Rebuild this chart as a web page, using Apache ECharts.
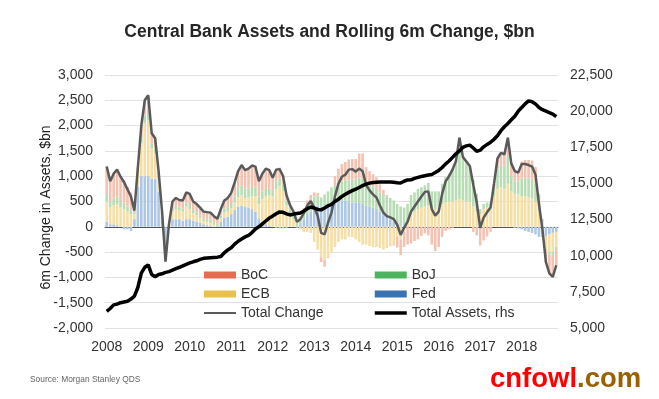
<!DOCTYPE html>
<html>
<head>
<meta charset="utf-8">
<title>Central Bank Assets and Rolling 6m Change</title>
<script src="https://cdn.jsdelivr.net/npm/echarts/dist/echarts.min.js"></script>
<style>
  html, body { margin: 0; padding: 0; background: #fff; }
  #chart { width: 659px; height: 399px; }
</style>
</head>
<body>
<div id="chart"></div>
<script>
// monthly observations, Jan 2008 .. Nov 2018
const startYear = 2008
const monthCount = 131

// rolling 6m change by central bank, $bn
const fed = [
  100, 50, 50, 30, 0, -50, -50, -80, 150, 800, 1000, 1000,
  1000, 950, 950, 700, 200, -500, 0, 150, 150, 150, 120, 150,
  150, 120, 100, 80, 50, 30, 20, 0, 20, 100, 180, 200,
  250, 330, 400, 420, 400, 380, 350, 300, 150, 100, 50, 20,
  0, -20, -30, -30, -20, 0, 0, -20, 50, 150, 250, 300,
  400, 420, 400, 420, 450, 500, 520, 530, 520, 520, 500, 480,
  480, 470, 450, 420, 400, 380, 350, 300, 250, 200, 150, 100,
  50, 20, 0, 0, 0, 0, 0, 0, 0, 0, 0, 0,
  0, 0, 0, 0, 0, 0, 0, 0, 0, 0, 0, 0,
  0, 0, 0, 0, 0, 0, 0, 0, 0, 0, -20, -30,
  -50, -80, -100, -120, -150, -200, -200, -180, -150, -120, -100
]
const ecb = [
  400, 330, 380, 420, 380, 350, 300, 250, 100, 250, 650, 1050,
  1100, 600, 500, 250, 50, -150, 0, 150, 200, 180, 180, 250,
  200, 150, 130, 100, 70, 70, 60, 40, 10, 60, 100, 100,
  120, 150, 180, 200, 170, 200, 250, 300, 300, 450, 550, 600,
  600, 750, 800, 700, 420, 250, 150, 0, -50, -100, -100, -120,
  -300, -450, -600, -650, -600, -500, -400, -300, -250, -250, -200, -200,
  -250, -300, -350, -350, -380, -400, -400, -420, -450, -420, -380, -350,
  -200, -250, -100, 100, 250, 300, 350, 380, 400, 420, 350, 350,
  400, 450, 480, 500, 500, 520, 550, 520, 500, 500, 400, 300,
  250, 350, 380, 400, 600, 750, 780, 750, 850, 700, 650, 650,
  600, 600, 580, 560, 500, 300, 100, -250, -350, -380, -300
]
const boj = [
  150, 120, 130, 150, 130, 130, 100, 80, 20, 30, 120, 150,
  150, 100, 100, 50, 20, -20, 20, 50, 60, 50, 60, 80,
  80, 60, 60, 50, 40, 50, 60, 50, 40, 60, 80, 90,
  100, 120, 170, 200, 180, 180, 190, 180, 150, 150, 150, 130,
  120, 150, 150, 130, 100, 100, 100, 80, 100, 150, 180, 220,
  200, 200, 180, 220, 250, 280, 300, 350, 380, 400, 420, 450,
  450, 500, 500, 450, 450, 420, 400, 380, 380, 400, 420, 420,
  400, 380, 380, 350, 380, 380, 400, 400, 420, 450, 350, 350,
  300, 400, 500, 550, 650, 780, 1000, 800, 750, 700, 530, 350,
  100, 100, 100, 80, 150, 400, 450, 450, 550, 300, 250, 250,
  350, 370, 380, 390, 350, 200, 50, -30, -50, -60, -40
]
const boc = [
  540, 400, 490, 530, 480, 450, 390, 350, 50, 90, 230, 300,
  350, 200, 200, 100, 30, -20, 30, 150, 160, 150, 160, 200,
  220, 170, 160, 150, 140, 140, 140, 120, 90, 130, 160, 180,
  200, 280, 350, 400, 370, 390, 420, 410, 300, 350, 400, 370,
  250, 250, 220, 200, 120, 80, 50, 40, 50, 70, 90, 110,
  80, 50, -100, -140, -20, 0, 180, 270, 340, 360, 410, 410,
  410, 480, 500, 310, 250, 240, 230, 160, 100, 30, -5, -20,
  -210, -310, -300, -350, -330, -280, -250, -180, -130, -170, -350, -480,
  -400, -200, -80, -50, -20, 0, 210, 60, 40, 0, -100, -170,
  -370, -270, -190, -100, 100, 200, 230, 230, 360, 250, 220, 200,
  340, 350, 360, 360, 330, 150, 0, -240, -370, -430, -320
]
const totalChange = [
  1190, 900, 1050, 1130, 990, 880, 740, 600, 320, 1170, 2000, 2500,
  2600, 1850, 1750, 1100, 300, -690, 50, 500, 570, 530, 520, 680,
  650, 500, 450, 380, 300, 290, 280, 210, 160, 350, 520, 570,
  670, 880, 1100, 1220, 1120, 1150, 1210, 1190, 900, 1050, 1150, 1120,
  970, 1130, 1140, 1000, 620, 430, 300, 100, 150, 270, 420, 510,
  380, 220, -120, -150, 80, 280, 600, 850, 990, 1030, 1130, 1140,
  1090, 1150, 1100, 830, 720, 640, 580, 420, 280, 210, 185, 150,
  40, -160, -20, 100, 300, 400, 500, 600, 690, 700, 350, 220,
  300, 650, 900, 1000, 1130, 1300, 1760, 1380, 1290, 1200, 830, 480,
  -20, 180, 290, 380, 850, 1350, 1460, 1430, 1760, 1250, 1100, 1070,
  1240, 1240, 1220, 1190, 1030, 450, -50, -700, -920, -990, -760
]
// total assets, $bn (right axis)
const totalAssets = [
  6150, 6350, 6600, 6650, 6750, 6800, 6850, 7000, 7200, 7800, 8800, 9200,
  9360, 8700, 8550, 8700, 8750, 8850, 8900, 9000, 9100, 9200, 9300, 9400,
  9500, 9580, 9650, 9750, 9820, 9840, 9860, 9880, 9900, 9950, 10200, 10400,
  10550, 10800, 11000, 11150, 11300, 11400, 11600, 11850, 12000, 12200, 12400, 12600,
  12750, 12900, 13030, 13000, 12900, 12820, 12880, 12920, 12960, 13100, 13250, 13370,
  13300, 13200, 13170, 13300, 13450, 13550, 13750, 13900, 14100, 14250, 14380, 14500,
  14600, 14720, 14850, 14950, 15020, 15060, 15080, 15100, 15100, 15100, 15100, 15080,
  15050, 15030, 15150, 15240, 15250, 15350, 15420, 15480, 15530, 15580, 15620, 15750,
  15900, 16100, 16350, 16550, 16800, 17050, 17250, 17500, 17600, 17650, 17450, 17220,
  17300, 17530, 17700, 17850, 18050, 18300, 18650, 18920, 19150, 19400, 19650, 20000,
  20250, 20500, 20710, 20650, 20500, 20250, 20100, 20000, 19900, 19800, 19620
]

const months = []
for (let i = 0; i < monthCount; i++) {
  const y = startYear + Math.floor(i / 12)
  const m = (i % 12) + 1
  months.push(y + '-' + (m < 10 ? '0' + m : m))
}

const font = 'Liberation Sans, Arial, sans-serif'
const fmt = v => v.toLocaleString('en-US')
const yearTick = i => i % 12 === 0
// legend entry for a line series: plain stroke, no marker
const lineEntry = (name, color, width) => ({
  name: name,
  itemStyle: { opacity: 0, color: 'rgba(0,0,0,0)', borderWidth: 0 },
  lineStyle: { color: color, width: width }
})

const chart = echarts.init(document.getElementById('chart'))
chart.setOption({
  animation: false,
  backgroundColor: '#fff',
  textStyle: { fontFamily: font },
  title: [
    {
      text: 'Central Bank Assets and Rolling 6m Change, $bn',
      left: 'center', top: 23, padding: 0,
      textStyle: { fontSize: 17.5, fontWeight: 'bold', color: '#262626', fontFamily: font }
    },
    {
      text: 'Source: Morgan Stanley QDS',
      left: 30, top: 376, padding: 0,
      textStyle: { fontSize: 8.4, fontWeight: 'normal', color: '#666', fontFamily: font }
    },
    {
      text: '{r|cnfowl}{b|.com}',
      left: 490, top: 365, padding: 0,
      textStyle: {
        rich: {
          r: { fontSize: 27.5, color: '#ff0000', fontFamily: font },
          b: { fontSize: 27.5, color: '#996100', fontFamily: font }
        }
      }
    }
  ],
  legend: [
    {
      left: 203, top: 268, orient: 'vertical', itemGap: 5,
      itemWidth: 32, itemHeight: 7, padding: 0,
      textStyle: { fontSize: 14, color: '#333', fontFamily: font },
      data: [
        { name: 'BoC', icon: 'rect', itemStyle: { color: '#e26d4f' } },
        { name: 'ECB', icon: 'rect', itemStyle: { color: '#e9c04f' } },
        lineEntry('Total Change', '#5a5a5a', 2)
      ]
    },
    {
      left: 373, top: 268, orient: 'vertical', itemGap: 5,
      itemWidth: 32, itemHeight: 7, padding: 0,
      textStyle: { fontSize: 14, color: '#333', fontFamily: font },
      data: [
        { name: 'BoJ', icon: 'rect', itemStyle: { color: '#4db35e' } },
        { name: 'Fed', icon: 'rect', itemStyle: { color: '#3b73b1' } },
        lineEntry('Total Assets, rhs', '#000', 3.5)
      ]
    }
  ],
  grid: { left: 105, right: 101, top: 75, bottom: 71, outerBoundsMode: 'none' },
  xAxis: [
    {
      // zero line with yearly ticks
      type: 'category', data: months, position: 'bottom',
      axisLine: { onZero: true, lineStyle: { color: '#555', width: 1 } },
      axisTick: { interval: yearTick, length: 3, lineStyle: { color: '#555' } },
      axisLabel: { show: false },
      splitLine: { show: false }
    },
    {
      // year labels along the bottom
      type: 'category', data: months, position: 'bottom',
      axisLine: { show: false, onZero: false },
      axisTick: { show: false },
      axisLabel: {
        interval: yearTick, margin: 12, fontSize: 14, color: '#333', fontFamily: font,
        formatter: v => v.slice(0, 4)
      },
      splitLine: { show: false }
    }
  ],
  yAxis: [
    {
      type: 'value', min: -2000, max: 3000, interval: 500,
      name: '6m Change in Assets, $bn', nameLocation: 'middle', nameGap: 52,
      nameMoveOverlap: false,
      nameTextStyle: { fontSize: 14, color: '#222', fontFamily: font, padding: [0, 12, 0, 0] },
      axisLine: { show: false }, axisTick: { show: false },
      axisLabel: { fontSize: 14, color: '#333', margin: 12, fontFamily: font, formatter: fmt },
      splitLine: { lineStyle: { color: '#e2e2e2', width: 1 } }
    },
    {
      type: 'value', min: 5000, max: 22500, interval: 2500,
      axisLine: { show: false }, axisTick: { show: false },
      axisLabel: { fontSize: 14, color: '#333', margin: 12, fontFamily: font, formatter: fmt },
      splitLine: { show: false }
    }
  ],
  series: [
    { name: 'Fed', type: 'bar', stack: 'cb', data: fed, barCategoryGap: '25%', itemStyle: { color: '#adc6e4' } },
    { name: 'ECB', type: 'bar', stack: 'cb', data: ecb, itemStyle: { color: '#f5dfa6' } },
    { name: 'BoJ', type: 'bar', stack: 'cb', data: boj, itemStyle: { color: '#b8ddb4' } },
    { name: 'BoC', type: 'bar', stack: 'cb', data: boc, itemStyle: { color: '#f3c2b1' } },
    {
      name: 'Total Change', type: 'line', data: totalChange, symbol: 'none',
      lineStyle: { color: '#5a5a5a', width: 2.5 }, itemStyle: { color: '#5a5a5a' }, z: 3
    },
    {
      name: 'Total Assets, rhs', type: 'line', yAxisIndex: 1, data: totalAssets, symbol: 'none',
      lineStyle: { color: '#000', width: 3.5 }, itemStyle: { color: '#000' }, z: 4
    }
  ]
})
</script>
</body>
</html>
